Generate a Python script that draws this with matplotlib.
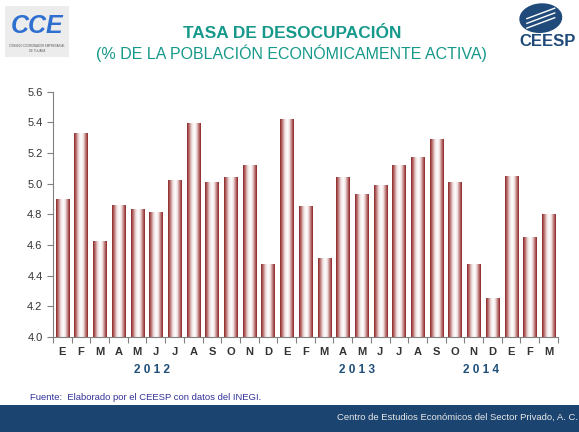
import numpy as np
import matplotlib.pyplot as plt
from matplotlib.colors import LinearSegmentedColormap
from matplotlib.patches import Rectangle, Ellipse

plt.rcParams["font.family"] = ["Liberation Sans", "DejaVu Sans"]

# datos: tasa de desocupación mensual (ene 2012 - mar 2014)
meses = ["E", "F", "M", "A", "M", "J", "J", "A", "S", "O", "N", "D",
         "E", "F", "M", "A", "M", "J", "J", "A", "S", "O", "N", "D",
         "E", "F", "M"]
tasa = [4.90, 5.33, 4.62, 4.86, 4.83, 4.81, 5.02, 5.39, 5.01, 5.04, 5.12, 4.47,
        5.42, 4.85, 4.51, 5.04, 4.93, 4.99, 5.12, 5.17, 5.29, 5.01, 4.47, 4.25,
        5.05, 4.65, 4.80]
anios = ["2 0 1 2", "2 0 1 3", "2 0 1 4"]
pos_anios = [4.8, 15.75, 22.4]
yticks = [4.0, 4.2, 4.4, 4.6, 4.8, 5.0, 5.2, 5.4, 5.6]

fig = plt.figure(figsize=(5.79, 4.32), dpi=100)
ax = fig.add_axes([0.0915, 0.2199, 0.872, 0.5678])

# barras con sombreado tipo cilindro
cmap = LinearSegmentedColormap.from_list(
    "cil", ["#8a2626", "#c07878", "#eddcdc", "#ffffff", "#f4e8e8", "#c28080", "#8a2626"])
grad = np.linspace(0, 1, 64).reshape(1, -1)
x = np.arange(len(tasa))
ancho = 0.7
for xi, v in zip(x, tasa):
    ax.imshow(grad, cmap=cmap, aspect="auto", interpolation="bilinear",
              extent=(xi - ancho / 2, xi + ancho / 2, 4.0, v), zorder=2)

ax.set_xlim(-0.5, len(tasa) - 0.5)
ax.set_ylim(4.0, 5.6)
ax.set_yticks(yticks)
ax.set_yticklabels([f"{t:.1f}" for t in yticks], fontsize=8, color="#333333")
ax.set_xticks(np.arange(len(tasa) + 1) - 0.5)
ax.set_xticklabels([])
ax.tick_params(axis="both", direction="out", length=4, width=0.8, color="#808080")
for s in ["top", "right"]:
    ax.spines[s].set_visible(False)
for s in ["left", "bottom"]:
    ax.spines[s].set_color("#808080")
    ax.spines[s].set_linewidth(0.8)

for xi, m in zip(x, meses):
    ax.text(xi, -0.062, m, transform=ax.get_xaxis_transform(), ha="center", va="center",
            fontsize=8, fontweight="bold", color="#333333")
for p, a in zip(pos_anios, anios):
    ax.text(p, -0.135, a, transform=ax.get_xaxis_transform(), ha="center", va="center",
            fontsize=8.5, fontweight="bold", color="#1f4e79")

# títulos
fig.text(0.504, 0.923, "TASA DE DESOCUPACIÓN", ha="center", va="center",
         fontsize=12.4, fontweight="bold", color="#16998a")
fig.text(0.504, 0.877, "(% DE LA POBLACIÓN ECONÓMICAMENTE ACTIVA)", ha="center",
         va="center", fontsize=11.5, color="#16998a")

# logo CCE (aproximado)
fig.patches.append(Rectangle((0.009, 0.868), 0.11, 0.117, transform=fig.transFigure,
                             facecolor="#ececec", edgecolor="none"))
fig.text(0.064, 0.94, "CCE", ha="center", va="center", fontsize=18,
         fontweight="bold", fontstyle="italic", color="#2f6fd0")
fig.text(0.064, 0.893, "CONSEJO COORDINADOR EMPRESARIAL", ha="center", va="center",
         fontsize=2, color="#555555")
fig.text(0.064, 0.881, "DE TIJUANA", ha="center", va="center", fontsize=2, color="#555555")

# logo CEESP (aproximado)
fig.patches.append(Ellipse((0.934, 0.958), 0.075, 0.068, angle=20, transform=fig.transFigure,
                           facecolor="#1f4a7a", edgecolor="none"))
for dy in [-0.011, 0.0, 0.011]:
    fig.lines.append(plt.Line2D([0.91, 0.958], [0.946 + dy, 0.97 + dy],
                                transform=fig.transFigure, color="white", lw=1))
fig.text(0.945, 0.903, "CEESP", ha="center", va="center", fontsize=12,
         fontweight="bold", color="#1f4a7a")

# fuente y franja inferior
fig.text(0.052, 0.08, "Fuente:  Elaborado por el CEESP con datos del INEGI.",
         ha="left", va="center", fontsize=6.8, color="#333399")
fig.patches.append(Rectangle((0, 0), 1, 0.063, transform=fig.transFigure,
                             facecolor="#1b4470", edgecolor="none"))
fig.text(0.998, 0.035, "Centro de Estudios Económicos del Sector Privado, A. C.",
         ha="right", va="center", fontsize=6.8, color="#e8e8e8")

fig.savefig("out.png", dpi=100)
